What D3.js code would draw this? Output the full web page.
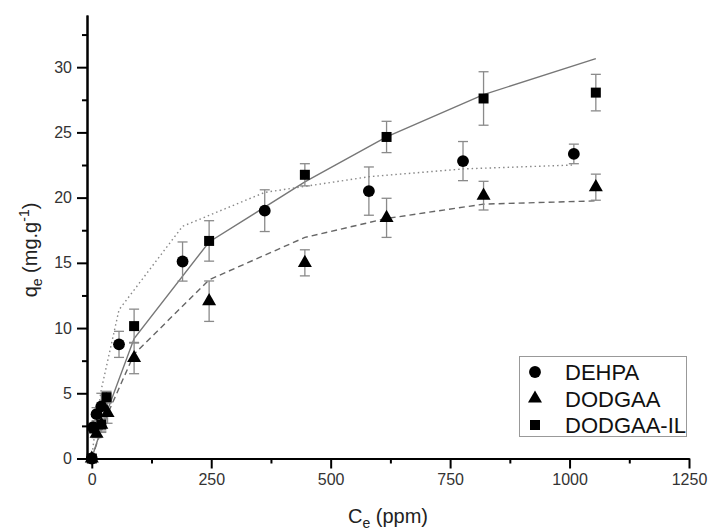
<!DOCTYPE html>
<html>
<head>
<meta charset="utf-8">
<script src="https://cdn.jsdelivr.net/npm/d3@7"></script>
<style>
  html, body { margin: 0; padding: 0; background: #fff; }
  svg { display: block; font-family: "Liberation Sans", Arial, sans-serif; }
</style>
</head>
<body>
<svg id="chart" width="710" height="531"></svg>
<script>
// ---- data ----
const dehpaX   = [0, 3, 10, 20, 57, 190, 362, 580, 777, 1009];
const dehpaY   = [0, 2.4, 3.4, 4.0, 8.75, 15.1, 19.0, 20.5, 22.8, 23.35];
const dehpaErr = [0, 0.3, 0.5, 1.0, 1.0, 1.5, 1.6, 1.85, 1.5, 0.75];
const dehpaFit = [0, 1.0, 3.0, 5.3, 11.4, 17.8, 20.4, 21.6, 22.2, 22.5];

const dodgaaX   = [0, 10, 20, 33, 88.6, 245.6, 446, 617, 820, 1055];
const dodgaaY   = [0, 1.9, 2.6, 3.5, 7.7, 12.06, 15.0, 18.45, 20.15, 20.8];
const dodgaaErr = [0, 0.3, 0.6, 0.8, 1.2, 1.55, 1.0, 1.5, 1.1, 1.0];
const dodgaaFit = [0, 1.1, 2.1, 3.4, 8.0, 13.7, 16.95, 18.4, 19.5, 19.75];

const ilX   = [0, 5, 20, 31, 88.6, 245.6, 446, 617, 820, 1055];
const ilY   = [0, 2.3, 2.6, 4.7, 10.15, 16.68, 21.75, 24.65, 27.6, 28.05];
const ilErr = [0, 0.3, 0.5, 0.45, 1.3, 1.55, 0.85, 1.2, 2.05, 1.4];
const ilFit = [0, 0.6, 2.3, 3.5, 9.2, 16.6, 21.2, 24.65, 27.9, 30.65];

const seriesNames = ["DEHPA", "DODGAA", "DODGAA-IL"];
const xMajorTicks = [0, 250, 500, 750, 1000, 1250];
const xMinorTicks = [125, 375, 625, 875, 1125];
const yMajorTicks = [0, 5, 10, 15, 20, 25, 30];
const yMinorTicks = [2.5, 7.5, 12.5, 17.5, 22.5, 27.5, 32.5];

// ---- layout ----
const svg = d3.select("#chart");
const x = d3.scaleLinear().domain([-10, 1250]).range([87, 689]);
const y = d3.scaleLinear().domain([0, 34]).range([458.5, 15]);

const series = [
  { name: seriesNames[0], xs: dehpaX, ys: dehpaY, err: dehpaErr, fit: dehpaFit,
    symbol: d3.symbolCircle, size: 110, dash: "1.5,3", lc: "#888" },
  { name: seriesNames[1], xs: dodgaaX, ys: dodgaaY, err: dodgaaErr, fit: dodgaaFit,
    symbol: d3.symbolTriangle, size: 85, dash: "6,4", lc: "#666" },
  { name: seriesNames[2], xs: ilX, ys: ilY, err: ilErr, fit: ilFit,
    symbol: d3.symbolSquare, size: 100, dash: null, lc: "#777" }
];

// fit lines
const line = d3.line().x(d => x(d[0])).y(d => y(d[1]));
series.forEach(s => {
  svg.append("path")
    .attr("d", line(s.xs.map((v, i) => [v, s.fit[i]])))
    .attr("fill", "none")
    .attr("stroke", s.lc)
    .attr("stroke-width", 1.4)
    .attr("stroke-dasharray", s.dash);
});

// error bars
const cap = 5;
series.forEach(s => {
  const g = svg.append("g").attr("stroke", "#8a8a8a").attr("stroke-width", 1.3);
  s.xs.forEach((v, i) => {
    const e = s.err[i];
    if (!e) return;
    const cx = x(v), top = y(s.ys[i] + e), bot = y(s.ys[i] - e);
    g.append("line").attr("x1", cx).attr("x2", cx).attr("y1", top).attr("y2", bot);
    g.append("line").attr("x1", cx - cap).attr("x2", cx + cap).attr("y1", top).attr("y2", top);
    g.append("line").attr("x1", cx - cap).attr("x2", cx + cap).attr("y1", bot).attr("y2", bot);
  });
});

// markers
series.forEach(s => {
  svg.append("g").selectAll("path")
    .data(s.xs.map((v, i) => [v, s.ys[i]]))
    .join("path")
    .attr("transform", d => `translate(${x(d[0])},${y(d[1])})`)
    .attr("d", d3.symbol().type(s.symbol).size(s.size))
    .attr("fill", "#000");
});

// axes
function styleAxis(g) {
  g.selectAll("path.domain").attr("stroke", "#000").attr("stroke-width", 2);
  g.selectAll(".tick line").attr("stroke", "#000").attr("stroke-width", 2);
  g.selectAll(".tick text").attr("fill", "#333").style("font-size", "16px")
    .style("font-family", "'Liberation Sans', Arial, sans-serif");
}
const xAxis = svg.append("g").attr("transform", "translate(0,458.5)")
  .call(d3.axisBottom(x).tickValues(xMajorTicks).tickFormat(d3.format("d"))
    .tickSize(10).tickPadding(5).tickSizeOuter(0));
styleAxis(xAxis);
const xMinor = svg.append("g").attr("transform", "translate(0,458.5)")
  .call(d3.axisBottom(x).tickValues(xMinorTicks).tickSize(5).tickFormat("").tickSizeOuter(0));
styleAxis(xMinor);

const yAxis = svg.append("g").attr("transform", "translate(87,0)")
  .call(d3.axisLeft(y).tickValues(yMajorTicks).tickFormat(d3.format("d"))
    .tickSize(10).tickPadding(5).tickSizeOuter(0));
styleAxis(yAxis);
const yMinor = svg.append("g").attr("transform", "translate(87,0)")
  .call(d3.axisLeft(y).tickValues(yMinorTicks).tickSize(5).tickFormat("").tickSizeOuter(0));
styleAxis(yMinor);

// axis titles
const xt = svg.append("text").attr("x", 388).attr("y", 523)
  .attr("text-anchor", "middle").attr("fill", "#222").style("font-size", "20px");
xt.append("tspan").text("C");
xt.append("tspan").attr("dy", 5).style("font-size", "14px").text("e");
xt.append("tspan").attr("dy", -5).text(" (ppm)");

const yt = svg.append("text")
  .attr("transform", "translate(37,250) rotate(-90)")
  .attr("text-anchor", "middle").attr("fill", "#222").style("font-size", "20px");
yt.append("tspan").text("q");
yt.append("tspan").attr("dy", 5).style("font-size", "14px").text("e");
yt.append("tspan").attr("dy", -5).text(" (mg.g");
yt.append("tspan").attr("dy", -8).style("font-size", "14px").text("-1");
yt.append("tspan").attr("dy", 8).text(")");

// legend
const lg = svg.append("g");
lg.append("rect").attr("x", 519.5).attr("y", 356.5).attr("width", 167).attr("height", 80)
  .attr("fill", "#fff").attr("stroke", "#999").attr("stroke-width", 1);
const rowY = [372, 398.5, 425];
series.forEach((s, i) => {
  lg.append("path")
    .attr("transform", `translate(535,${rowY[i]})`)
    .attr("d", d3.symbol().type(s.symbol).size(s.size))
    .attr("fill", "#000");
  lg.append("text").attr("x", 565).attr("y", rowY[i] + 8)
    .attr("fill", "#111").style("font-size", "22px").text(s.name);
});
</script>
</body>
</html>
